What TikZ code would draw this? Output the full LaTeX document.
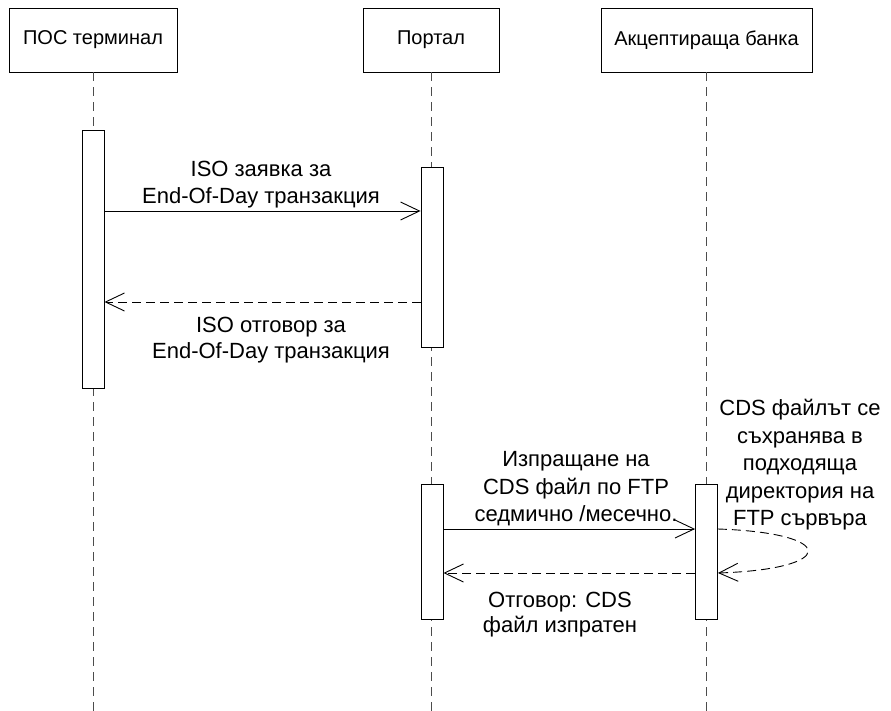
\documentclass[tikz,border=0pt]{standalone}
\usepackage{fontspec}
\setmainfont{Liberation Sans}
\usetikzlibrary{arrows.meta}
\begin{document}
\begin{tikzpicture}[x=1pt,y=-1pt,
  actor/.style={draw=black, line width=0.9pt, minimum height=64pt, inner sep=0pt, font=\fontsize{20}{24}\selectfont},
  bar/.style={draw=black, fill=white, line width=0.9pt, minimum width=22pt, inner sep=0pt},
  life/.style={draw=black!70, line width=1pt, dash pattern=on 9pt off 6pt},
  msg/.style={draw=black, line width=0.9pt, -{Straight Barb[length=19pt,width=18pt]}},
  ret/.style={msg, dash pattern=on 9pt off 5pt},
  lbl/.style={anchor=base, inner sep=0pt, font=\fontsize{22}{27.5}\selectfont}]
\useasboundingbox (0,0) rectangle (891,711);
% actors
\node[actor, minimum width=168pt] (b1) at (93,40) {ПОС терминал};
\node[actor, minimum width=136pt] (b2) at (431,40) {Портал};
\node[actor, minimum width=211pt] (b3) at (706.5,40) {Акцептираща банка};
% lifelines
\coordinate (e1) at (93,711);
\coordinate (e2) at (431,711);
\coordinate (e3) at (706.5,711);
\draw[life] (b1.south) -- (e1);
\draw[life] (b2.south) -- (e2);
\draw[life] (b3.south) -- (e3);
% activation bars
\node[bar, minimum height=258pt] (a1) at (93,259) {};
\node[bar, minimum height=180pt] (a2) at (432,257) {};
\node[bar, minimum height=135pt] (a2b) at (432,551.5) {};
\node[bar, minimum height=135pt] (a3) at (706.5,551.5) {};
% messages
\draw[msg] (a1.east |- 0,211) -- (a2.west |- 0,211);
\draw[ret] (a2.west |- 0,302) -- (a1.east |- 0,302);
\draw[msg] (a2b.east |- 0,529) -- (a3.west |- 0,529);
\coordinate (s1) at (a3.east |- 0,529);
\coordinate (s2) at (a3.east |- 0,573);
\draw[ret] (s1) .. controls (838,533) and (838,569) .. (s2);
\draw[ret] (a3.west |- 0,573) -- (a2b.east |- 0,573);
% labels
\node[lbl] (t1) at (261,177) {ISO заявка за};
\node[lbl] (t2) at (261,204) {End-Of-Day транзакция};
\node[lbl] (t3) at (271,332) {ISO отговор за};
\node[lbl] (t4) at (271,358) {End-Of-Day транзакция};
\node[lbl] (t5) at (576,466) {Изпращане на};
\node[lbl] (t6) at (576,494) {CDS файл по FTP};
\node[lbl] (t7) at (576,521) {седмично /месечно.};
\node[lbl] (t8) at (560,607) {Отговор: CDS};
\node[lbl] (t9) at (560,632) {файл изпратен};
\node[lbl] (u1) at (800,415) {CDS файлът се};
\node[lbl] (u2) at (800,443) {съхранява в};
\node[lbl] (u3) at (800,470) {подходяща};
\node[lbl] (u4) at (800,498) {директория на};
\node[lbl] (u5) at (800,525) {FTP сървъра};
\end{tikzpicture}
\end{document}
